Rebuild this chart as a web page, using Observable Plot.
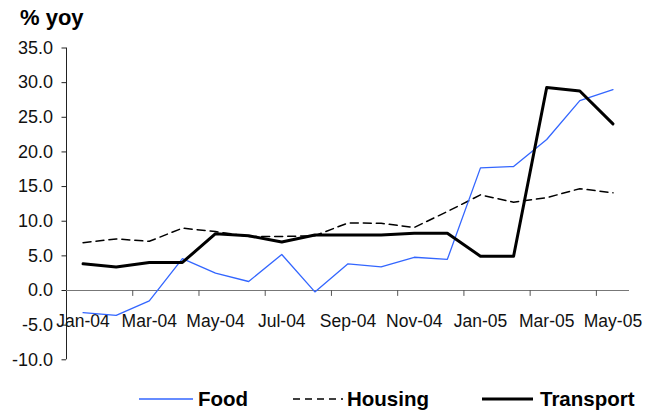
<!DOCTYPE html>
<html>
<head>
<meta charset="utf-8">
<script src="https://cdn.jsdelivr.net/npm/d3@7"></script>
<script src="https://cdn.jsdelivr.net/npm/@observablehq/plot@0.6"></script>
<style>
  body { margin: 0; background: #fff; font-family: "Liberation Sans", Arial, sans-serif; }
  #wrap { width: 647px; height: 410px; position: relative; overflow: hidden; }
  #title { height: 30px; box-sizing: border-box; padding: 3px 0 0 20px; font: bold 22px "Liberation Sans", Arial, sans-serif; line-height: 30px; overflow: visible; }
  #chart svg { display: block; }
</style>
</head>
<body>
<div id="wrap">
  <div id="title">% yoy</div>
  <div id="chart"></div>
  <div id="legend"></div>
</div>
<script>
const months = ["Jan-04","Feb-04","Mar-04","Apr-04","May-04","Jun-04","Jul-04","Aug-04","Sep-04","Oct-04","Nov-04","Dec-04","Jan-05","Feb-05","Mar-05","Apr-05","May-05"];
const food = [-3.2,-3.6,-1.5,4.6,2.5,1.3,5.2,-0.2,3.85,3.4,4.8,4.5,17.7,17.9,21.8,27.4,29.0];
const housing = [6.9,7.45,7.1,9.0,8.5,7.8,7.8,7.9,9.75,9.7,9.1,11.4,13.8,12.75,13.4,14.7,14.1];
const transport = [3.85,3.4,4.05,4.05,8.2,7.9,7.0,8.0,8.0,8.0,8.25,8.25,4.95,4.95,29.3,28.8,24.05];
const yTicks = [-10,-5,0,5,10,15,20,25,30,35];
const seriesNames = ["Food","Housing","Transport"];

const font = '"Liberation Sans", Arial, sans-serif';
const toRows = (arr) => arr.map((v, i) => ({i, v, m: months[i]}));
const labelRows = months.map((m, i) => ({i, m})).filter(d => d.i % 2 === 0);
const tickPos = months.map((m, i) => i + 0.5).filter((p, i) => i % 2 === 1 && i < months.length - 1);

const chart = Plot.plot({
  width: 647,
  height: 350,
  marginLeft: 66,
  marginRight: 18,
  marginTop: 17.5,
  marginBottom: 20.7,
  style: {fontFamily: font, background: "#fff", overflow: "visible"},
  x: {type: "linear", domain: [-0.5, months.length - 0.5], axis: null},
  y: {domain: [-10, 35], axis: null},
  marks: [
    Plot.axisY({ticks: yTicks, tickFormat: d => d.toFixed(1), tickSize: 4.5, tickPadding: 9, fontSize: 18, stroke: "#222", color: "#111", label: null}),
    Plot.ruleX([-0.5], {y1: -10, y2: 35, stroke: "#222", strokeWidth: 1}),
    Plot.ruleY([0], {x1: -0.5, x2: months.length - 0.5, stroke: "#777", strokeWidth: 1}),
    Plot.ruleX(tickPos, {y1: 0, y2: -0.85, stroke: "#555", strokeWidth: 1}),
    Plot.text(labelRows, {x: "i", y: 0, dy: 31, text: "m", fontSize: 17.5, fill: "#111"}),
    Plot.line(toRows(housing), {x: "i", y: "v", stroke: "#000", strokeWidth: 1.5, strokeDasharray: "8,5"}),
    Plot.line(toRows(food), {x: "i", y: "v", stroke: "#3366ff", strokeWidth: 1.3}),
    Plot.line(toRows(transport), {x: "i", y: "v", stroke: "#000", strokeWidth: 3})
  ]
});
document.getElementById("chart").appendChild(chart);

// Legend
const legendSpec = [
  {name: seriesNames[0], x1: 139, x2: 193, tx: 198, stroke: "#3366ff", w: 1.3, dash: null},
  {name: seriesNames[1], x1: 293, x2: 343, tx: 347, stroke: "#000", w: 1.5, dash: "7,5"},
  {name: seriesNames[2], x1: 482, x2: 533, tx: 540, stroke: "#000", w: 3, dash: null}
];
const ns = "http://www.w3.org/2000/svg";
const lsvg = document.createElementNS(ns, "svg");
lsvg.setAttribute("width", 647);
lsvg.setAttribute("height", 30);
lsvg.style.display = "block";
for (const s of legendSpec) {
  const ln = document.createElementNS(ns, "line");
  ln.setAttribute("x1", s.x1); ln.setAttribute("x2", s.x2);
  ln.setAttribute("y1", 19); ln.setAttribute("y2", 19);
  ln.setAttribute("stroke", s.stroke); ln.setAttribute("stroke-width", s.w);
  if (s.dash) ln.setAttribute("stroke-dasharray", s.dash);
  lsvg.appendChild(ln);
  const t = document.createElementNS(ns, "text");
  t.setAttribute("x", s.tx); t.setAttribute("y", 26);
  t.setAttribute("font-family", font); t.setAttribute("font-size", "20.5");
  t.setAttribute("font-weight", "bold"); t.setAttribute("fill", "#000");
  t.textContent = s.name;
  lsvg.appendChild(t);
}
document.getElementById("legend").appendChild(lsvg);
</script>
</body>
</html>
